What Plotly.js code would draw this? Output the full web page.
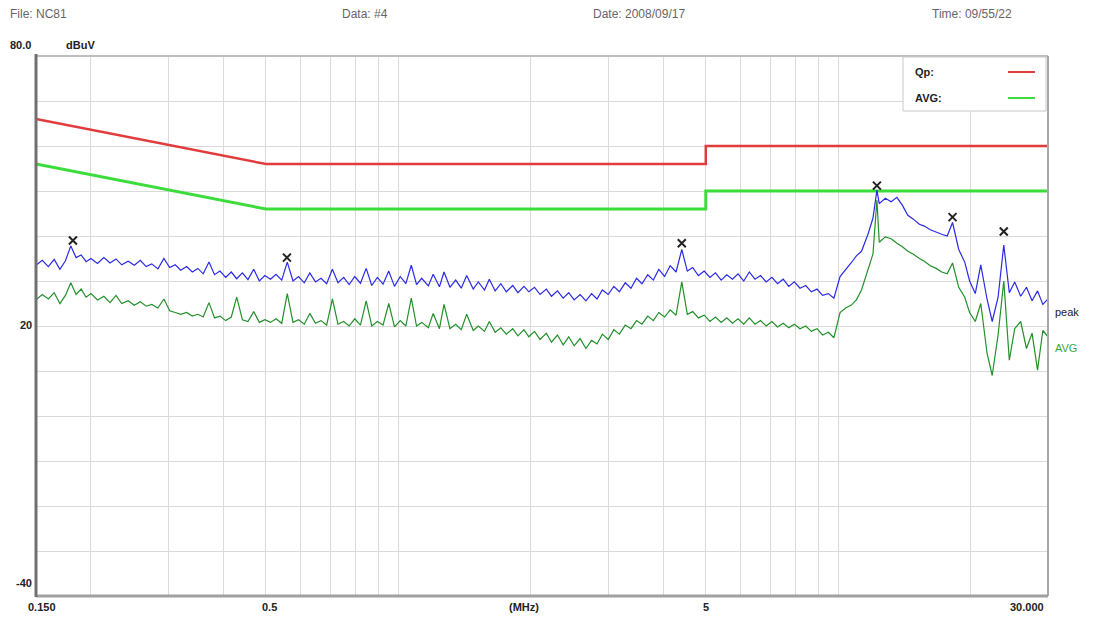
<!DOCTYPE html>
<html>
<head>
<meta charset="utf-8">
<script src="https://cdn.plot.ly/plotly-3.0.1.min.js"></script>
<style>
html,body{margin:0;padding:0;background:#fff;}
#chart{width:1096px;height:621px;}
</style>
</head>
<body>
<div id="chart"></div>
<script>
// ---------- data ----------
const freqMHz = [
0.150,0.155,0.160,0.165,0.170,0.175,0.180,0.185,0.190,0.195,0.200,
0.207,0.214,0.221,0.228,0.235,0.243,0.251,0.259,0.267,0.275,
0.284,0.293,0.302,0.311,0.320,0.330,0.340,0.350,0.360,0.371,
0.382,0.393,0.405,0.417,0.429,0.442,0.455,0.469,0.483,0.497,
0.512,0.527,0.543,0.559,0.576,0.593,0.611,0.629,0.648,0.667,
0.687,0.708,0.729,0.751,0.773,0.796,0.820,0.845,0.870,0.896,
0.923,0.951,0.980,
1.01,1.04,1.07,1.10,1.13,1.17,1.20,1.24,1.27,1.31,
1.35,1.39,1.43,1.48,1.52,1.57,1.61,1.66,1.71,1.76,
1.82,1.87,1.93,1.98,
2.04,2.10,2.17,2.23,2.30,2.37,2.44,2.51,2.59,2.67,
2.75,2.83,2.91,3.00,3.09,3.18,3.28,3.38,3.48,3.58,
3.69,3.80,3.91,4.03,4.15,4.28,4.41,4.54,4.67,4.81,
4.96,
5.11,5.26,5.42,5.58,5.75,5.92,6.10,6.28,6.47,6.66,
6.86,7.07,7.28,7.50,7.72,7.95,8.19,8.44,8.69,8.95,
9.22,9.50,9.78,
10.1,10.4,10.7,11.0,11.3,11.7,12.0,12.25,12.4,12.8,
13.2,13.6,14.0,14.4,14.8,15.3,15.7,16.2,16.7,17.2,
17.7,18.2,18.8,19.4,19.9,20.5,21.1,21.8,22.4,23.1,
23.8,24.5,25.2,26.0,26.8,27.6,28.4,29.2,30.0
];

const peakDbuV = [
33.5,34.6,33.2,34.8,32.6,34.5,37.8,35.2,35.8,34.3,35.0,
33.9,35.2,34.0,34.9,33.6,34.4,33.5,34.6,33.2,33.8,
32.7,35.0,33.0,33.6,32.4,33.2,32.0,32.8,31.6,34.2,
31.4,32.2,30.8,32.0,30.5,31.8,30.3,32.6,30.0,31.2,
30.4,31.5,30.2,34.2,30.0,31.0,29.6,31.8,29.8,30.6,
29.4,32.6,29.6,30.8,29.2,31.0,29.5,32.8,29.0,30.8,
29.3,32.2,28.8,
31.0,29.4,33.5,29.2,30.6,28.9,31.5,28.7,32.0,28.6,
30.2,28.4,31.2,28.2,29.8,28.0,30.4,27.8,29.4,27.6,
29.0,27.4,28.8,27.6,
28.6,27.0,28.2,26.6,27.8,26.2,27.4,25.8,27.0,25.6,
27.2,26.0,28.0,27.0,28.8,27.6,29.6,28.4,30.6,29.4,
31.4,30.2,32.6,31.0,33.4,32.0,37.0,32.2,33.0,31.2,
32.2,
30.8,31.8,30.2,31.4,30.4,31.6,30.0,32.0,30.4,31.2,
29.8,30.8,29.4,30.4,28.8,29.8,28.4,29.0,27.6,28.2,
26.8,27.2,26.2,
31.0,32.4,34.0,35.6,36.6,40.5,44.0,50.2,47.2,48.4,
47.6,48.6,46.8,44.6,43.8,42.6,42.2,41.4,40.8,40.4,
40.0,43.0,37.0,34.2,30.0,27.2,33.6,26.0,21.0,26.4,
38.0,27.4,29.8,26.6,28.6,25.6,27.8,24.8,26.0
];

const avgDbuV = [
25.8,27.0,26.0,27.4,25.0,26.8,29.6,27.0,28.2,26.4,27.2,
25.8,26.6,25.2,26.8,25.0,25.6,24.6,25.4,24.4,24.8,
24.0,26.0,23.4,23.0,22.6,23.0,22.2,22.6,22.0,25.2,
21.8,22.2,21.2,22.0,26.4,21.4,21.0,23.2,20.8,21.4,
20.8,21.6,20.6,27.2,20.8,21.4,20.4,22.8,20.6,21.2,
20.2,26.0,20.4,21.0,20.0,21.6,20.2,25.6,20.0,21.0,
20.2,25.0,19.8,
21.2,20.0,26.2,20.0,20.8,19.6,22.8,19.4,24.8,19.4,
20.4,19.2,22.6,19.0,20.0,18.8,21.0,18.6,19.6,18.2,
19.4,17.8,19.2,17.6,
18.8,17.0,18.4,16.4,18.0,15.8,17.6,15.6,17.2,15.0,
16.8,16.0,18.2,17.0,19.2,18.2,20.2,19.4,21.2,20.4,
22.2,21.2,23.0,22.0,23.6,22.4,29.8,22.6,23.2,21.8,
22.4,
21.0,22.0,20.8,21.8,20.6,21.6,20.4,21.8,20.4,21.2,
20.0,21.0,19.8,20.6,19.6,20.4,19.4,20.0,18.8,19.4,
18.0,18.6,17.4,
23.0,24.0,24.6,25.8,28.0,32.4,36.0,48.0,38.6,39.8,
39.4,38.4,37.6,36.6,36.0,35.0,34.4,33.4,32.8,32.0,
31.6,34.0,28.6,26.4,23.0,21.0,25.0,14.0,9.0,18.0,
30.0,12.4,19.4,21.0,15.0,18.4,10.2,19.0,17.6
];

// limit lines (CISPR class B style)
const limitFreq = [0.15, 0.5, 5, 5, 30];
const qpLimit   = [66, 56, 56, 60, 60];
const avgLimit  = [56, 46, 46, 50, 50];

// marked peaks
const markFreq = [0.182, 0.558, 4.41, 12.25, 18.2, 23.8];
const markVal  = [39.0, 35.2, 38.4, 51.2, 44.2, 41.0];

// axis labels / header
const gridFreq = [0.2,0.3,0.4,0.5,0.6,0.7,0.8,0.9,1,2,3,4,5,6,7,8,9,10,20];
const xLabels = ["0.150","0.5","(MHz)","5","30.000"];
const yLabels = ["80.0","20","-40"];
const headerTexts = ["File: NC81","Data: #4","Date: 2008/09/17","Time: 09/55/22"];

// ---------- pixel helpers (styling only) ----------
const L=36, R=1048, T=56, B=596;
const px = x => (x-L)/(R-L);
const py = y => (B-y)/(B-T);
const FONT = "Liberation Sans, Arial, sans-serif";

const traces = [
  {x:limitFreq, y:avgLimit, mode:"lines", line:{color:"#3ddc3d", width:3}, hoverinfo:"skip"},
  {x:limitFreq, y:qpLimit, mode:"lines", line:{color:"#e23b3b", width:2.5}, hoverinfo:"skip"},
  {x:freqMHz, y:peakDbuV, mode:"lines", line:{color:"#2a2ae6", width:1.2}},
  {x:freqMHz, y:avgDbuV, mode:"lines", line:{color:"#23902a", width:1.2}},
  {x:markFreq, y:markVal, mode:"markers",
   marker:{symbol:"x-thin", size:8, color:"#222", line:{color:"#222", width:2}}}
];

const ann = [];
const hdrX = [8, 340, 591, 930];
headerTexts.forEach((t,i)=>ann.push({text:t, xref:"paper", yref:"paper", x:px(hdrX[i]), y:py(14),
  xanchor:"left", yanchor:"middle", showarrow:false, font:{family:FONT, size:12, color:"#666"}}));
ann.push({text:"<b>"+yLabels[0]+"</b>", xref:"paper", yref:"paper", x:px(8), y:py(45), xanchor:"left", yanchor:"middle", showarrow:false, font:{family:FONT,size:11,color:"#222"}});
ann.push({text:"<b>dBuV</b>", xref:"paper", yref:"paper", x:px(64), y:py(45), xanchor:"left", yanchor:"middle", showarrow:false, font:{family:FONT,size:11,color:"#222"}});
ann.push({text:"<b>"+yLabels[1]+"</b>", xref:"paper", yref:"paper", x:px(34), y:py(325), xanchor:"right", yanchor:"middle", showarrow:false, font:{family:FONT,size:11,color:"#222"}});
ann.push({text:"<b>"+yLabels[2]+"</b>", xref:"paper", yref:"paper", x:px(34), y:py(583), xanchor:"right", yanchor:"middle", showarrow:false, font:{family:FONT,size:11,color:"#222"}});
const xlPos = [42, 269, 524, 706, 1027];
xLabels.forEach((t,i)=>ann.push({text:"<b>"+t+"</b>", xref:"paper", yref:"paper", x:px(xlPos[i]), y:py(607),
  xanchor:"center", yanchor:"middle", showarrow:false, font:{family:FONT,size:11,color:"#222"}}));
// legend
ann.push({text:"<b>Qp:</b>", xref:"paper", yref:"paper", x:px(913), y:py(72), xanchor:"left", yanchor:"middle", showarrow:false, font:{family:FONT,size:11,color:"#222"}});
ann.push({text:"<b>AVG:</b>", xref:"paper", yref:"paper", x:px(913), y:py(98), xanchor:"left", yanchor:"middle", showarrow:false, font:{family:FONT,size:11,color:"#222"}});
// right labels
ann.push({text:"peak", xref:"paper", yref:"paper", x:px(1053), y:py(312), xanchor:"left", yanchor:"middle", showarrow:false, font:{family:FONT,size:11,color:"#222"}});
ann.push({text:"AVG", xref:"paper", yref:"paper", x:px(1053), y:py(348), xanchor:"left", yanchor:"middle", showarrow:false, font:{family:FONT,size:11,color:"#3aa83a"}});

const shapes = [
  // frame
  {type:"line", xref:"paper", yref:"paper", x0:px(L), x1:px(R), y0:py(T), y1:py(T), line:{color:"#bdbdbd", width:2}},
  {type:"line", xref:"paper", yref:"paper", x0:px(R), x1:px(R), y0:py(T), y1:py(B), line:{color:"#a8a8a8", width:2}},
  {type:"line", xref:"paper", yref:"paper", x0:px(L), x1:px(R), y0:py(B), y1:py(B), line:{color:"#a0a0a0", width:3}},
  {type:"line", xref:"paper", yref:"paper", x0:px(L), x1:px(L), y0:py(T-2), y1:py(B+1), line:{color:"#707070", width:3}},
  // legend box
  {type:"rect", xref:"paper", yref:"paper", x0:px(903), x1:px(1046), y0:py(57), y1:py(111), fillcolor:"#ffffff", line:{color:"#c8c8c8", width:1}, layer:"above"},
  {type:"line", xref:"paper", yref:"paper", x0:px(1008), x1:px(1035), y0:py(72), y1:py(72), line:{color:"#e23b3b", width:2}, layer:"above"},
  {type:"line", xref:"paper", yref:"paper", x0:px(1008), x1:px(1035), y0:py(98), y1:py(98), line:{color:"#3ddc3d", width:2}, layer:"above"}
];

const layout = {
  width:1096, height:621,
  margin:{l:L, r:1096-R, t:T, b:621-B, pad:0},
  paper_bgcolor:"#ffffff", plot_bgcolor:"#ffffff",
  showlegend:false,
  xaxis:{type:"log", range:[Math.log10(0.15), Math.log10(30)], tickmode:"array", tickvals:gridFreq,
    showticklabels:false, ticks:"", showgrid:true, gridcolor:"#dadada", gridwidth:1, zeroline:false, showline:false, fixedrange:true},
  yaxis:{range:[-40,80], tick0:-40, dtick:10, showticklabels:false, ticks:"", showgrid:true,
    gridcolor:"#dadada", gridwidth:1, zeroline:false, showline:false, fixedrange:true},
  annotations:ann,
  shapes:shapes
};

Plotly.newPlot("chart", traces, layout, {staticPlot:true, displayModeBar:false});
</script>
</body>
</html>
